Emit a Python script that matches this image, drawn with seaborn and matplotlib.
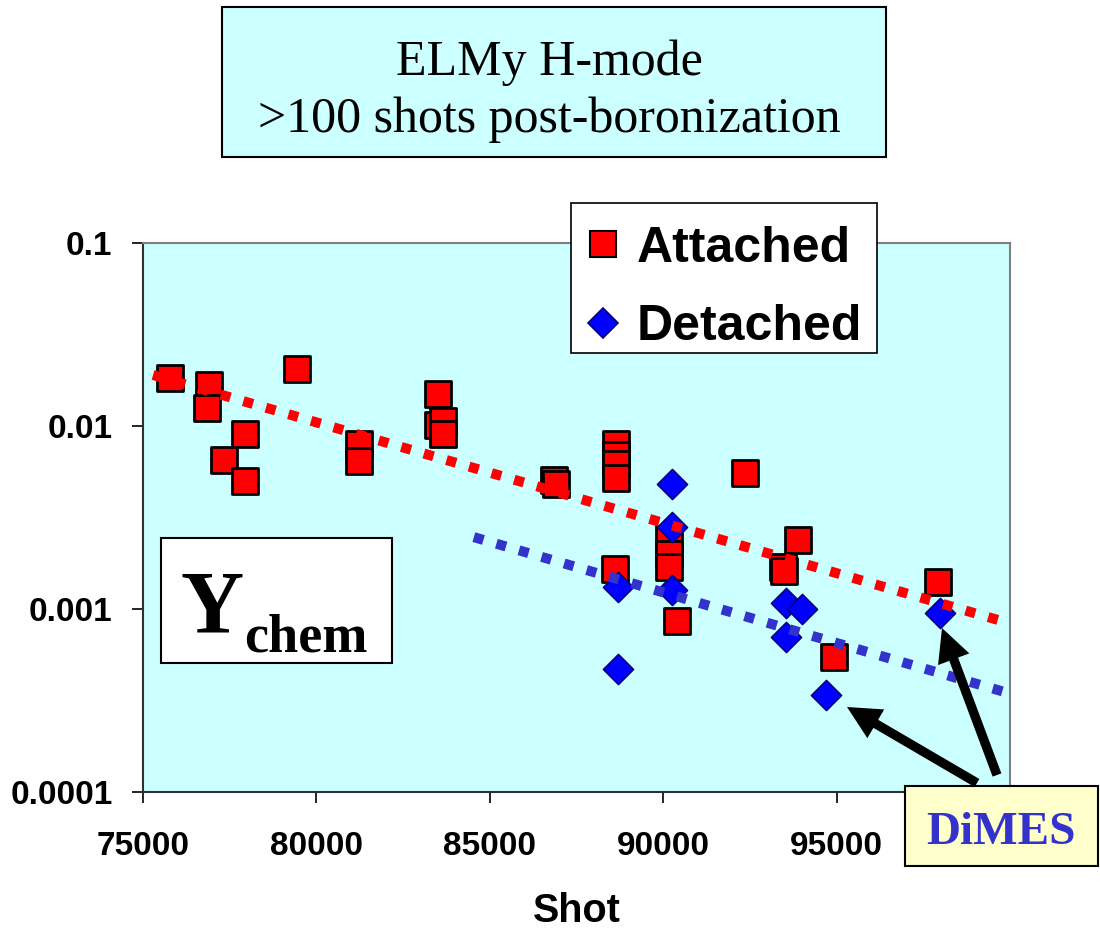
import numpy as np
import pandas as pd
import matplotlib
matplotlib.use("Agg")
import matplotlib.pyplot as plt
from matplotlib.patches import Rectangle
from matplotlib.lines import Line2D
from matplotlib.ticker import FixedLocator, FixedFormatter, NullLocator
import seaborn as sns

# ---------------- data ----------------
attached_shot = [75780, 76900, 76850, 79440, 77930, 77335, 77930, 81240, 81240,
                 83520, 83500, 83650, 83650, 86850, 86900,
                 88630, 88630, 88630, 88630, 88620,
                 90180, 90180, 90180, 90410, 92350, 93900, 93450, 93490,
                 97920, 94920]
attached_y = [0.0182, 0.0168, 0.0125, 0.0205, 0.00908, 0.0065, 0.00499, 0.00794, 0.00644,
              0.0150, 0.0101, 0.0106, 0.00908, 0.0051, 0.0048,
              0.0080, 0.0069, 0.0062, 0.0052, 0.00166,
              0.0024, 0.0020, 0.0017, 0.00086, 0.00552, 0.00239, 0.0017, 0.00162,
              0.00141, 0.00055]

detached_shot = [90265, 90265, 88700, 90265, 88700, 93550, 94000, 93550, 94700, 97990]
detached_y = [0.0048, 0.00282, 0.00132, 0.00127, 0.000472, 0.00108, 0.000996,
              0.000707, 0.000339, 0.000946]

attached_trend_shot = [75290, 100000]
attached_trend_y = [0.0190, 0.000834]
detached_trend_shot = [84540, 100000]
detached_trend_y = [0.00247, 0.000345]

x_ticks = [75000, 80000, 85000, 90000, 95000]
x_tick_labels = ["75000", "80000", "85000", "90000", "95000"]
y_ticks = [0.0001, 0.001, 0.01, 0.1]
y_tick_labels = ["0.0001", "0.001", "0.01", "0.1"]

legend_labels = ["Attached", "Detached"]
title_lines = ["ELMy H-mode", ">100 shots post-boronization"]
x_label = "Shot"
annot_y = "Y"
annot_sub = "chem"
annot_dimes = "DiMES"

# ---------------- style ----------------
sns.set_theme(style="ticks")
plt.rcParams["font.family"] = ["Liberation Sans", "DejaVu Sans"]
plt.rcParams["text.color"] = "black"
plt.rcParams["axes.labelcolor"] = "black"
plt.rcParams["xtick.color"] = "black"
plt.rcParams["ytick.color"] = "black"

W, H = 1100, 931
fig = plt.figure(figsize=(W / 100, H / 100), dpi=100)
fig.patch.set_facecolor("white")

def fx(px):
    return px / W

def fy(py):
    return 1 - py / H

ax_l, ax_r, ax_t, ax_b = 143, 1010, 243, 792
ax = fig.add_axes([fx(ax_l), fy(ax_b), fx(ax_r) - fx(ax_l), (ax_b - ax_t) / H])
ax.set_facecolor("#CCFFFF")

att = pd.DataFrame({"shot": attached_shot, "y": attached_y})
det = pd.DataFrame({"shot": detached_shot, "y": detached_y})

sns.scatterplot(data=att, x="shot", y="y", marker="s", s=19.4 ** 2,
                color="#FF0000", edgecolor="black", linewidth=2.0, ax=ax, zorder=3)
sns.scatterplot(data=det, x="shot", y="y", marker="D", s=15.3 ** 2,
                color="#0000FF", edgecolor="#000080", linewidth=1.2, ax=ax, zorder=3)

ax.plot(attached_trend_shot, attached_trend_y, color="#FF0000", lw=7.2,
        linestyle=(0, (1.0, 1.35)), dash_capstyle="butt", zorder=4)
ax.plot(detached_trend_shot, detached_trend_y, color="#3333CC", lw=7.2,
        linestyle=(0, (1.0, 1.35)), dash_capstyle="butt", zorder=4)

ax.set_yscale("log")
ax.set_xlim(75000, 100000)
ax.set_ylim(1e-4, 1e-1)
ax.yaxis.set_major_locator(FixedLocator(y_ticks))
ax.yaxis.set_major_formatter(FixedFormatter(y_tick_labels))
ax.yaxis.set_minor_locator(NullLocator())
ax.xaxis.set_major_locator(FixedLocator(x_ticks))
ax.xaxis.set_major_formatter(FixedFormatter(x_tick_labels))

for lab in ax.get_xticklabels() + ax.get_yticklabels():
    lab.set_fontweight("bold")
    lab.set_fontsize(24)
    lab.set_color("black")
ax.tick_params(axis="both", direction="out", length=8, width=1.2, color="black")
ax.tick_params(axis="y", pad=14)
ax.tick_params(axis="x", pad=20)

ax.set_xlabel(x_label, fontsize=28.5, fontweight="bold", labelpad=22, color="black")
ax.set_ylabel("")
for side in ["left", "bottom"]:
    ax.spines[side].set_color("#303030")
    ax.spines[side].set_linewidth(1.5)
for side in ["top", "right"]:
    ax.spines[side].set_color("#808080")
    ax.spines[side].set_linewidth(1.5)

# legend (frame drawn separately for exact placement)
ax.add_patch(Rectangle((fx(571), fy(353)), fx(877) - fx(571), (353 - 203) / H,
                       transform=fig.transFigure, facecolor="white", edgecolor="black",
                       linewidth=1.2, zorder=9, clip_on=False))
handles = [
    Line2D([], [], linestyle="none", marker="s", markersize=19.4, markerfacecolor="#FF0000",
           markeredgecolor="black", markeredgewidth=1.5),
    Line2D([], [], linestyle="none", marker="D", markersize=15.3, markerfacecolor="#0000FF",
           markeredgecolor="#000080", markeredgewidth=1.2),
]
leg = ax.legend(handles, legend_labels, loc="center left",
                bbox_to_anchor=(fx(578), fy(288)), bbox_transform=fig.transFigure,
                prop={"family": "Liberation Sans", "weight": "bold", "size": 36},
                frameon=False, borderpad=0, handletextpad=0.18, labelspacing=0.65,
                handlelength=1.0, borderaxespad=0)
for t in leg.get_texts():
    t.set_color("black")
leg.set_zorder(10)

serif = ["Liberation Serif", "DejaVu Serif"]

# title box
fig.add_artist(Rectangle((fx(222), fy(157)), fx(886) - fx(222), (157 - 7) / H,
                         transform=fig.transFigure, facecolor="#CCFFFF",
                         edgecolor="black", linewidth=1.5, zorder=5))
fig.text(fx(549), fy(75), title_lines[0], ha="center", va="baseline",
         family=serif, fontsize=36, color="black", zorder=6)
fig.text(fx(549), fy(132), title_lines[1], ha="center", va="baseline",
         family=serif, fontsize=36, color="black", zorder=6)

# Y_chem box
fig.add_artist(Rectangle((fx(161), fy(663)), fx(392) - fx(161), (663 - 538) / H,
                         transform=fig.transFigure, facecolor="white",
                         edgecolor="black", linewidth=1.5, zorder=5))
fig.text(fx(181), fy(632), annot_y, ha="left", va="baseline", family=serif,
         fontweight="bold", fontsize=63, color="black", zorder=6)
fig.text(fx(244), fy(652), annot_sub, ha="left", va="baseline", family=serif,
         fontweight="bold", fontsize=39, color="black", zorder=6)

# DiMES box
fig.add_artist(Rectangle((fx(905), fy(866)), fx(1098) - fx(905), (866 - 786) / H,
                         transform=fig.transFigure, facecolor="#FFFFCC",
                         edgecolor="black", linewidth=1.5, zorder=5))
fig.text(fx(1001), fy(844), annot_dimes, ha="center", va="baseline", family=serif,
         fontweight="bold", fontsize=34, color="#3333CC", zorder=6)

# arrows
arrow_style = "simple,head_length=1.0,head_width=1.0,tail_width=0.28"
for tail, tip in [((977, 783), (847, 707)), ((997, 775), (942, 628))]:
    ax.annotate("", xy=(fx(tip[0]), fy(tip[1])), xycoords="figure fraction",
                xytext=(fx(tail[0]), fy(tail[1])), textcoords="figure fraction",
                arrowprops=dict(arrowstyle=arrow_style, color="black", lw=0,
                                shrinkA=0, shrinkB=0, mutation_scale=24),
                annotation_clip=False, zorder=7)

fig.savefig("out.png", dpi=100)
